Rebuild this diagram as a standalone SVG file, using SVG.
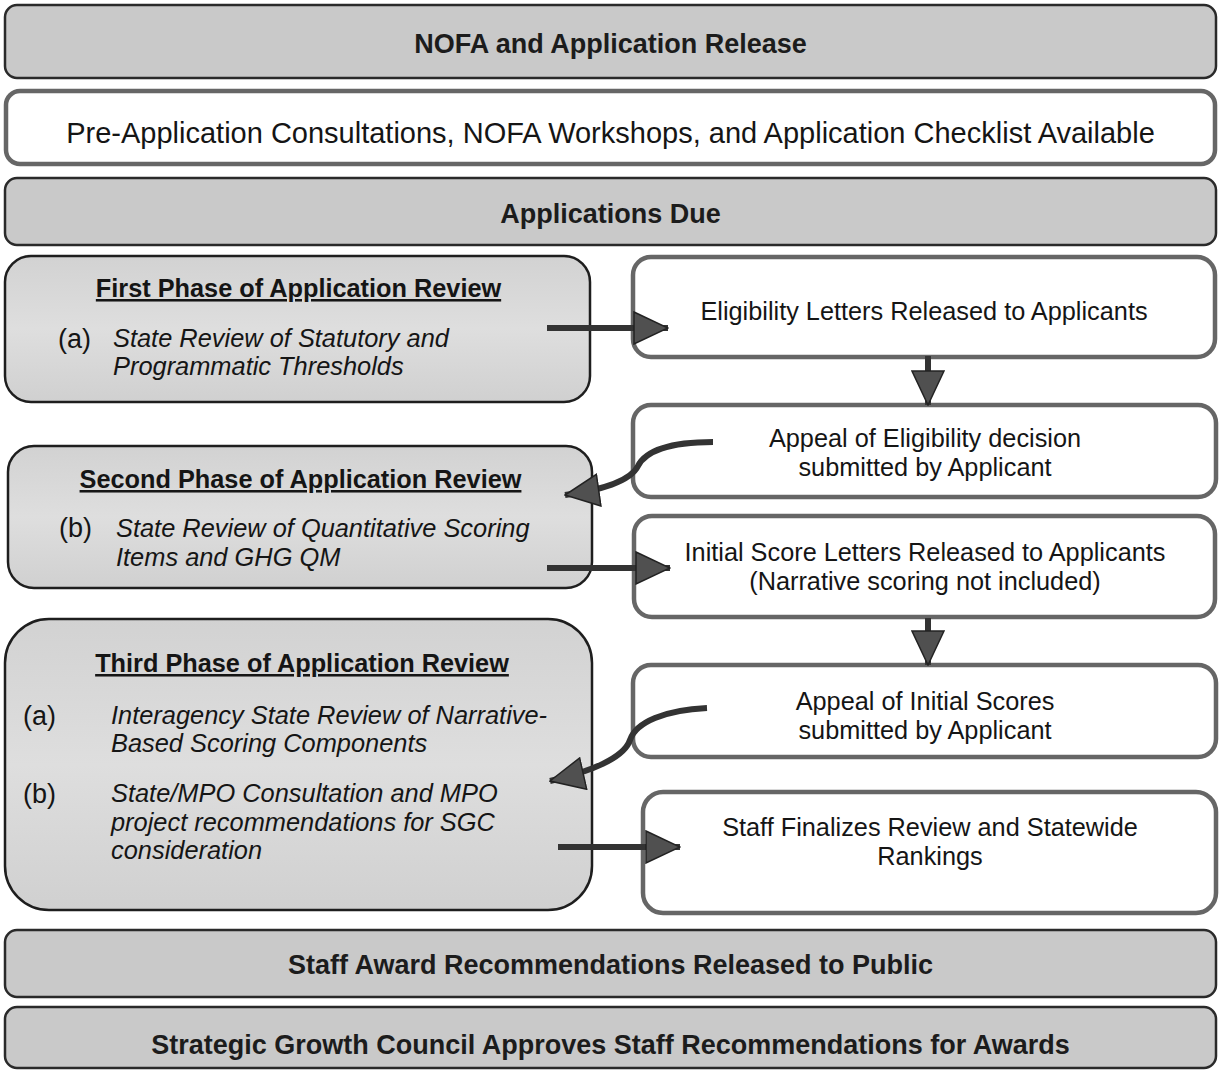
<svg xmlns="http://www.w3.org/2000/svg" width="1221" height="1071" viewBox="0 0 1221 1071">
<style>
  .t{font-family:"Liberation Sans",Arial,sans-serif;fill:#151515}
  .ban{fill:#c9c9c9;stroke:#2a2a2a;stroke-width:2.5}
  .white{fill:#ffffff;stroke:#666666;stroke-width:4.5}
  .phase{fill:url(#pg);stroke:#1e1e1e;stroke-width:2.5}
  .bt{font-size:27px;font-weight:bold;text-anchor:middle;fill:#1c1c1c}
  .rt{font-size:25.3px;text-anchor:middle}
  .ti{font-size:25.3px;font-weight:bold;text-anchor:middle;text-decoration:underline}
  .it{font-size:25.4px;font-style:italic}
  .lb{font-size:27px}
  .ln{fill:none;stroke:#333;stroke-width:6}
</style>
<defs>
  <linearGradient id="pg" x1="0" y1="0" x2="0" y2="1">
    <stop offset="0" stop-color="#d2d2d2"/>
    <stop offset="0.5" stop-color="#dedede"/>
    <stop offset="1" stop-color="#d0d0d0"/>
  </linearGradient>
  <marker id="ah" markerUnits="userSpaceOnUse" markerWidth="36" markerHeight="34" refX="34" refY="16" orient="auto" viewBox="-1 -1 36 34">
    <path d="M0,0 L34,16 L0,32 Z" fill="#505050" stroke="#222" stroke-width="1.5"/>
  </marker>
</defs>

<g id="nofa">
  <rect class="ban" x="5" y="5" width="1211" height="73" rx="12"/>
  <text class="t bt" x="610.5" y="53">NOFA and Application Release</text>
</g>
<g id="preapp">
  <rect class="white" x="6" y="91" width="1209" height="73" rx="14"/>
  <text class="t" x="610.5" y="143" font-size="29" text-anchor="middle">Pre-Application Consultations, NOFA Workshops, and Application Checklist Available</text>
</g>
<g id="due">
  <rect class="ban" x="5" y="178" width="1211" height="67" rx="12"/>
  <text class="t bt" x="610.5" y="223">Applications Due</text>
</g>

<g id="phase1">
  <rect class="phase" x="5" y="256" width="585" height="146" rx="26"/>
  <text class="t ti" x="298.5" y="297">First Phase of Application Review</text>
  <text class="t lb" x="58" y="348">(a)</text>
  <text class="t it" x="113" y="347">State Review of Statutory and</text>
  <text class="t it" x="113" y="375">Programmatic Thresholds</text>
</g>
<g id="elig">
  <rect class="white" x="633" y="257" width="582" height="100" rx="18"/>
  <text class="t rt" x="924" y="320">Eligibility Letters Released to Applicants</text>
</g>
<g id="appeal1">
  <rect class="white" x="633" y="405" width="583" height="92" rx="18"/>
  <text class="t rt" x="925" y="447">Appeal of Eligibility decision</text>
  <text class="t rt" x="925" y="476">submitted by Applicant</text>
</g>
<g id="phase2">
  <rect class="phase" x="8" y="446" width="584" height="142" rx="26"/>
  <text class="t ti" x="300.5" y="488">Second Phase of Application Review</text>
  <text class="t lb" x="59" y="537">(b)</text>
  <text class="t it" x="116" y="537">State Review of Quantitative Scoring</text>
  <text class="t it" x="116" y="566">Items and GHG QM</text>
</g>
<g id="initial">
  <rect class="white" x="634" y="516" width="581" height="101" rx="18"/>
  <text class="t rt" x="925" y="561">Initial Score Letters Released to Applicants</text>
  <text class="t rt" x="925" y="590">(Narrative scoring not included)</text>
</g>
<g id="phase3">
  <rect class="phase" x="5" y="619" width="587" height="291" rx="44"/>
  <text class="t ti" x="302" y="672">Third Phase of Application Review</text>
  <text class="t lb" x="23" y="725">(a)</text>
  <text class="t it" x="111" y="724">Interagency State Review of Narrative-</text>
  <text class="t it" x="111" y="752">Based Scoring Components</text>
  <text class="t lb" x="23" y="803">(b)</text>
  <text class="t it" x="111" y="802">State/MPO Consultation and MPO</text>
  <text class="t it" x="111" y="831">project recommendations for SGC</text>
  <text class="t it" x="111" y="859">consideration</text>
</g>
<g id="appeal2">
  <rect class="white" x="633" y="665" width="583" height="92" rx="18"/>
  <text class="t rt" x="925" y="710">Appeal of Initial Scores</text>
  <text class="t rt" x="925" y="739">submitted by Applicant</text>
</g>
<g id="finalize">
  <rect class="white" x="643" y="792" width="573" height="121" rx="20"/>
  <text class="t rt" x="930" y="836">Staff Finalizes Review and Statewide</text>
  <text class="t rt" x="930" y="865">Rankings</text>
</g>
<g id="staffaward">
  <rect class="ban" x="5" y="930" width="1211" height="67" rx="12"/>
  <text class="t bt" x="610.5" y="974">Staff Award Recommendations Released to Public</text>
</g>
<g id="sgc">
  <rect class="ban" x="5" y="1007" width="1211" height="61" rx="12"/>
  <text class="t bt" x="610.5" y="1054">Strategic Growth Council Approves Staff Recommendations for Awards</text>
</g>

<g id="connectors">
  <line class="ln" x1="547" y1="328" x2="668" y2="328" marker-end="url(#ah)"/>
  <line class="ln" x1="928" y1="356" x2="928" y2="405" marker-end="url(#ah)"/>
  <path class="ln" d="M713,442 C668,442 645,452 638,466 C630,482 600,490 565,495" marker-end="url(#ah)"/>
  <line class="ln" x1="547" y1="568" x2="670" y2="568" marker-end="url(#ah)"/>
  <line class="ln" x1="928" y1="618" x2="928" y2="665" marker-end="url(#ah)"/>
  <path class="ln" d="M707,708 C665,710 636,722 630,740 C624,758 590,772 550,781" marker-end="url(#ah)"/>
  <line class="ln" x1="558" y1="847" x2="680" y2="847" marker-end="url(#ah)"/>
</g>
</svg>
